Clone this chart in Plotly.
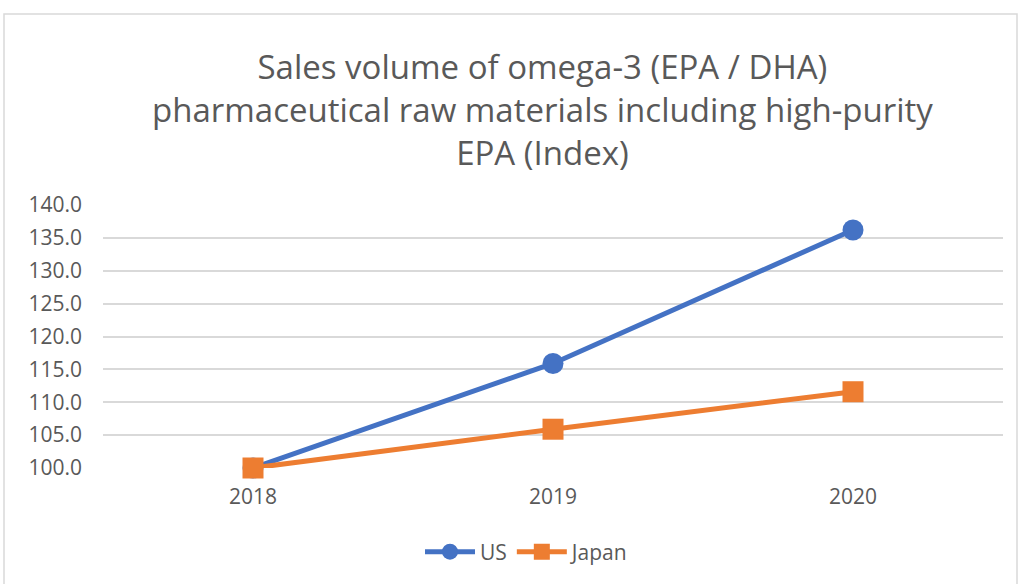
import plotly.graph_objects as go

years = ["2018", "2019", "2020"]
us = [100.0, 115.9, 136.2]
japan = [100.0, 105.9, 111.6]
y_ticks = [100, 105, 110, 115, 120, 125, 130, 135, 140]

W, H = 1021, 584
L, R, T, B = 103, 18, 205, 116
pw, ph = W - L - R, H - T - B

fig = go.Figure()
fig.add_trace(go.Scatter(x=years, y=us, name="US", mode="lines+markers", cliponaxis=False,
                         line=dict(color="#4472C4", width=5),
                         marker=dict(symbol="circle", size=21, color="#4472C4")))
fig.add_trace(go.Scatter(x=years, y=japan, name="Japan", mode="lines+markers", cliponaxis=False,
                         line=dict(color="#ED7D31", width=5),
                         marker=dict(symbol="square", size=21, color="#ED7D31")))

def px_x(p):
    return (p - L) / pw

def px_y(p):
    return (H - B - p) / ph

fig.add_shape(type="rect", xref="paper", yref="paper",
              x0=px_x(4), x1=px_x(1017), y0=px_y(600), y1=px_y(14),
              line=dict(color="#D9D9D9", width=1.5), fillcolor="rgba(0,0,0,0)", layer="below")

fig.add_annotation(text="Sales volume of omega-3 (EPA / DHA)<br>pharmaceutical raw materials including high-purity<br>EPA (Index)",
                   xref="paper", yref="paper", x=px_x(542), y=px_y(42), xanchor="center", yanchor="top",
                   showarrow=False, font=dict(family="Open Sans", size=33, color="#595959"))

fig.update_layout(
    width=W, height=H,
    margin=dict(l=L, r=R, t=T, b=B),
    paper_bgcolor="white", plot_bgcolor="white",
    font=dict(family="Open Sans", color="#595959"),
    showlegend=True,
    legend=dict(orientation="h", x=px_x(527), y=px_y(552), xanchor="center", yanchor="middle",
                font=dict(size=21, color="#595959"), itemwidth=50),
    xaxis=dict(type="category", range=[-0.5, 2.5], showgrid=False, showline=False,
               ticks="", ticklabelstandoff=14, tickfont=dict(size=21, color="#595959")),
    yaxis=dict(range=[100, 140], tickvals=y_ticks, tickformat=".1f", showgrid=True,
               gridcolor="#D9D9D9", gridwidth=1.5, zeroline=False, showline=False,
               ticks="", ticklabelstandoff=20, tickfont=dict(size=21, color="#595959")),
)

fig.write_html("out.html", config={"displayModeBar": False},
               post_script="document.body.style.margin='0';document.body.style.overflow='hidden';")
